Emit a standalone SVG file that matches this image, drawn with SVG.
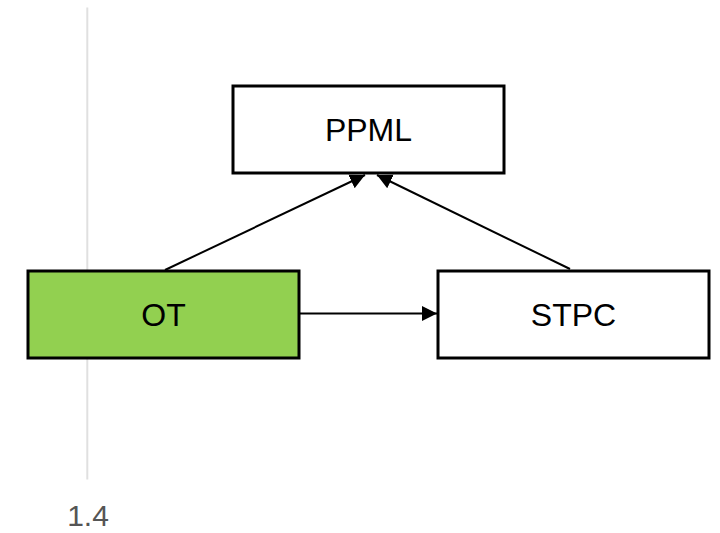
<svg xmlns="http://www.w3.org/2000/svg" width="720" height="533" viewBox="0 0 720 533">
  <style>
    .box { stroke: #000; stroke-width: 3; }
    .label { font-family: "Liberation Sans", Arial, sans-serif; font-size: 32px; fill: #000; text-anchor: middle; }
    .edge { stroke: #000; stroke-width: 2; fill: none; }
  </style>
  <defs>
    <marker id="arrow" viewBox="0 0 10 10" refX="10" refY="5" markerWidth="7.5" markerHeight="8" markerUnits="strokeWidth" orient="auto">
      <path d="M0,0 L10,5 L0,10 z" fill="#000"/>
    </marker>
  </defs>
  <rect width="720" height="533" fill="#fff"/>

  <!-- margin rule and page number -->
  <line x1="87.3" y1="7.5" x2="87.3" y2="479.5" stroke="#e0e0e0" stroke-width="2"/>
  <text x="88" y="526" font-family="'Liberation Sans', Arial, sans-serif" font-size="30" fill="#555" text-anchor="middle">1.4</text>

  <g id="connectors">
    <line class="edge" x1="165" y1="270" x2="365" y2="175" marker-end="url(#arrow)"/>
    <line class="edge" x1="570" y1="269" x2="377" y2="175" marker-end="url(#arrow)"/>
    <line class="edge" x1="300" y1="313.5" x2="437" y2="313.5" marker-end="url(#arrow)"/>
  </g>

  <g id="ppml">
    <rect class="box" x="233" y="86" width="271" height="87" fill="#fff"/>
    <text class="label" x="368.5" y="141">PPML</text>
  </g>
  <g id="ot">
    <rect class="box" x="28" y="271" width="271" height="87" fill="#92d050"/>
    <text class="label" x="163.5" y="326">OT</text>
  </g>
  <g id="stpc">
    <rect class="box" x="438" y="271" width="271" height="87" fill="#fff"/>
    <text class="label" x="573.5" y="326">STPC</text>
  </g>
</svg>
